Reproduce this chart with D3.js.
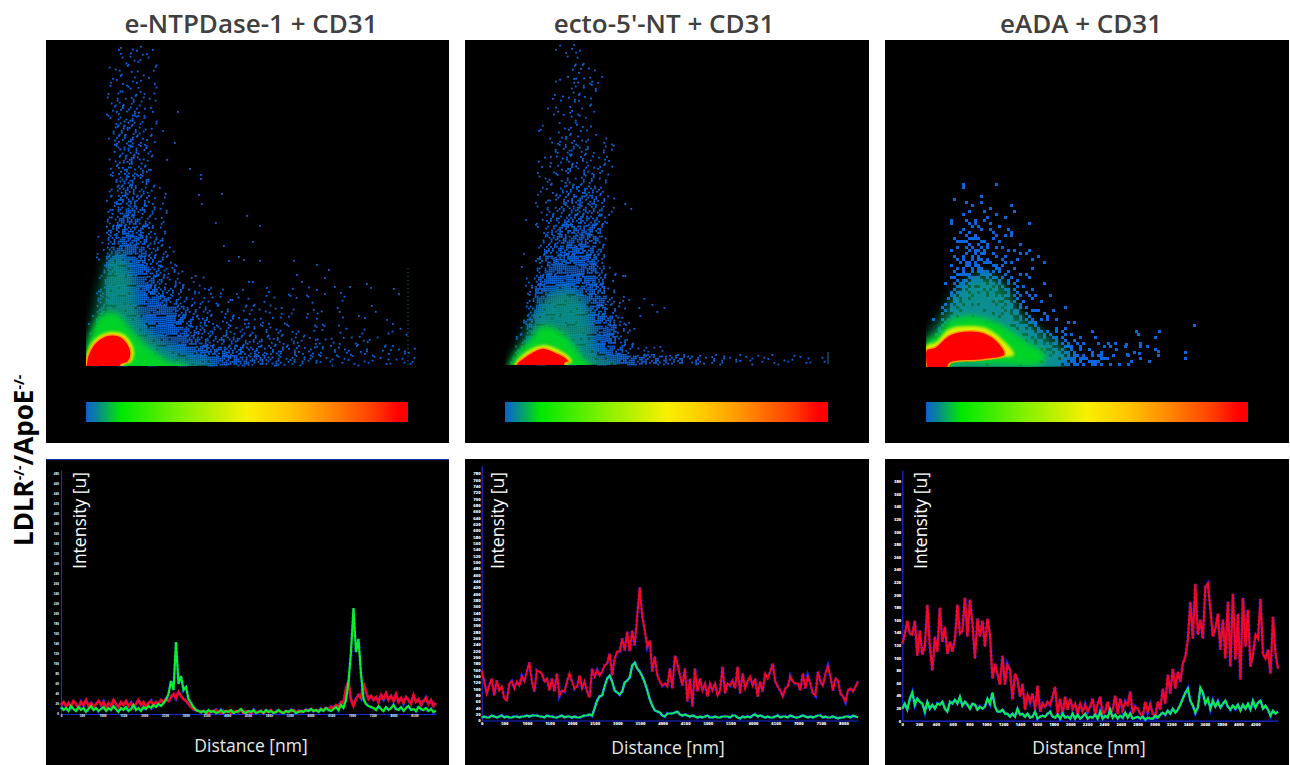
<!DOCTYPE html>
<html>
  <head>
    <title>Colocalisation panels</title>
    <script src="https://cdnjs.cloudflare.com/ajax/libs/d3/7.8.5/d3.min.js" charset="utf-8"></script>
    <style>
      html, body { margin: 0; padding: 0; background: #fff; }
      svg { display: block; }
    </style>
  </head>
  <body>
    <div id="main"></div>
  <script>
    // panel titles
    var titles = ["e-NTPDase-1 + CD31", "ecto-5'-NT + CD31", "eADA + CD31"];
    var titleX = [251, 664, 1081];

    // colour bar stops, 0 - 1
    var barStops = [0, 0.03, 0.11, 0.3, 0.5, 0.62, 0.75, 0.9, 0.97, 1];
    var barColors = ["#0b5fd0", "#0a80a0", "#00e800", "#80f000", "#f8f000", "#ffc800", "#ff8a00", "#ff3800", "#ff0000", "#ff0000"];

    // density of the scatter, one digit per cell (0 empty - 9 solid), top row first
    var density1 = [
      "00021210", "00012110", "00111110", "00122110", "00122210", "00233210", "00234210", "00244310",
      "00244310", "00245320", "00145320", "00145310", "00245420", "00255420", "00256421", "00266431",
      "00367532", "00477532", "00577642", "01688743", "016897432", "028998542", "0289996531", "039999753221",
      "049999864321210100101010", "059999985422212111101010010", "06999999964322212111101101001", "1799999997543232221110110101001",
      "18999999986543333222211101010011", "299999999976555443333222111211", "399999999998776655443333222221221", "499999999999988766544332222121212"
    ];
    var density2 = [
      "000001210", "000000110", "0000001210", "0000012221", "000000222", "000011221", "000011211", "00000121",
      "00010122100", "00001232111", "00001343221", "00011233221", "00011243331", "00012233320", "00012345530", "00012456641",
      "00013456541", "00014566651", "00025677750", "00025777740", "00036788740", "00047889850", "00058998851", "00279998961",
      "00389998872", "004899998831", "005999998731", "01699999987300", "0189999998831", "0399999999841", "0599999999863221", "18999999999987665544332222212111"
    ];
    var density3 = [
      "000101", "00011", "00121101", "00133211", "002433211", "00355322", "0035643221", "0046654321",
      "0057765320", "01688754310", "02789875321", "038999864321", "1599999764321", "279999998654311",
      "4999999998765332110101", "9999999999987663321101"
    ];

    // single stray points [channel 1, channel 2]
    var stray1 = [[91,254],[76,235],[88,223],[80,206],[103,197],[114,191],[114,187],[135,172],[112,171],[115,162],[160,150],[173,140],[129,143],[166,124],[137,120],[152,109],[207,105],[230,101],[242,96],[142,105],[173,105],[157,106],[210,91],[238,88],[215,84],[162,84],[166,84],[280,82],[307,77],[284,78],[312,72],[263,79],[248,79],[254,73],[230,76],[238,72]];
    var stray2 = [[20,145],[33,234],[18,111],[16,98],[119,161],[125,156],[117,89],[119,89],[138,66],[146,60],[158,57],[151,53],[133,57],[134,49],[123,65],[117,64],[128,36],[123,42]];
    var stray3 = [[209,36],[211,33],[232,36],[228,30],[267,42],[213,24],[213,21],[220,21],[231,16],[212,14],[200,13],[199,23],[181,24],[188,24]];

    // density contours [channel 1, channel 2], from the left end of the base to the right end
    var teal1 = [[0,0],[2,25],[8,50],[15,80],[22,105],[32,112],[42,100],[48,78],[52,55],[60,38],[80,20],[105,8],[125,2]];
    var green1 = [[0,0],[0,15],[6,35],[15,50],[30,52],[42,40],[55,25],[70,12],[85,3],[100,0]];
    var yellow1 = [[0,0],[1,12],[9,26],[23,33],[39,30],[48,14],[45,3],[37,0]];
    var red1 = [[0,0],[2,10],[10,23],[23,30],[37,27],[45,13],[42,3],[35,0]];
    var teal2 = [[5,0],[15,20],[27,45],[45,70],[60,75],[75,68],[85,45],[88,20],[95,6],[110,2]];
    var green2 = [[5,0],[12,12],[25,25],[38,38],[55,33],[68,20],[78,6],[85,0]];
    var yellow2 = [[10,0],[16,8],[26,15],[38,19],[52,15],[63,8],[67,2],[62,0]];
    var red2 = [[12,1],[18,6],[27,12],[38,16],[50,12],[60,7],[64,2],[60,1]];
    var teal3 = [[0,0],[0,28],[15,48],[27,70],[40,85],[62,92],[82,78],[95,52],[125,28],[145,10],[135,0]];
    var green3 = [[0,0],[0,25],[12,32],[22,45],[45,50],[70,44],[100,25],[120,10],[115,2],[23,0]];
    var yellow3 = [[0,0],[0,20],[10,24],[23,37],[40,40],[60,38],[78,25],[88,11],[60,9],[23,3]];
    var red3 = [[0,0],[0,16],[9,19],[23,31],[39,35],[59,33],[74,22],[79,11],[56,6],[23,2]];

    // line profiles, intensity along the distance
    var redLine1 = [9,12,8,11,7,13,10,6,12,9,14,8,11,7,10,13,9,12,6,11,8,14,10,7,12,9,13,8,11,6,10,14,9,12,7,11,13,8,12,10,14,
      12,15,13,17,20,16,22,18,15,13,10,7,5,4,3,
      2,3,2,1,3,2,4,2,1,3,2,3,1,2,3,2,4,1,3,2,1,3,2,2,3,1,3,2,4,1,2,3,2,1,3,2,3,4,2,3,2,3,4,3,5,3,4,3,5,4,6,5,7,6,9,7,12,11,
      26,32,14,8,15,19,16,31,22,15,18,
      14,17,12,19,15,21,14,18,13,20,12,16,11,17,14,10,19,12,15,9,13,16,10,14,8,11];
    var greenLine1 = [7,4,6,3,8,5,3,7,4,6,2,5,8,4,6,3,5,7,3,6,4,8,5,2,6,4,7,3,5,9,4,6,3,7,5,8,6,9,7,10,8,
      11,14,20,33,24,72,30,38,24,27,15,11,7,4,3,
      2,3,1,4,2,3,1,2,4,1,3,2,4,1,2,3,5,2,1,3,2,4,1,2,3,1,4,2,3,1,2,4,2,1,3,2,4,3,1,2,3,2,4,3,5,3,4,2,5,3,6,4,3,5,7,4,9,6,
      14,32,62,106,62,75,40,15,10,8,7,
      6,4,8,5,3,7,4,6,9,5,4,7,3,6,8,4,5,3,7,5,4,6,3,5,2,3];
    var redLine2 = [50,39,27,35,42,25,40,30,34,22,20,37,39,32,39,35,44,39,49,58,39,29,50,49,47,39,42,30,42,29,47,25,30,29,39,47,39,32,34,45,32,39,29,23,52,44,50,45,49,55,57,67,45,62,69,69,82,70,89,69,90,75,105,133,104,90,74,80,49,64,45,39,35,37,34,
      52,32,65,57,45,35,52,19,42,14,52,29,42,30,37,24,37,30,37,25,30,54,27,37,35,40,32,54,27,47,32,39,44,35,42,24,39,29,47,42,49,57,39,34,30,24,32,34,44,39,37,37,30,47,32,44,37,27,25,49,39,35,47,54,44,30,42,40,27,24,19,30,32,29,34,39];
    var greenLine2 = [3,4,3,3,5,4,3,4,5,3,4,3,3,4,4,3,4,4,5,4,5,5,5,4,4,3,5,4,4,3,3,4,5,3,4,4,3,4,3,3,4,5,5,6,5,
      12,20,24,25,34,42,45,39,30,28,26,29,38,40,43,55,58,52,49,44,38,30,21,15,10,9,8,5,4,7,7,7,8,9,6,5,
      6,5,4,5,4,3,4,3,4,5,3,3,4,3,3,4,4,4,3,5,5,3,2,4,3,4,3,5,6,4,5,4,3,4,3,3,4,5,3,4,4,3,5,4,3,3,4,5,4,3,4,3,4,5,5,3,4,3,3,4,3,2,3,3,4,4,3,5,4,3];
    var redLine3 = [77,87,100,87,86,100,65,90,66,74,116,74,50,84,69,113,79,94,67,79,69,81,116,87,90,123,84,121,97,62,102,84,100,74,102,86,42,57,47,36,65,36,56,51,21,47,41,24,37,11,26,19,27,11,35,9,17,14,19,16,24,34,7,22,6,24,11,22,12,17,7,17,9,16,9,
      14,22,6,17,24,7,9,19,7,11,25,7,22,11,19,16,29,7,14,12,7,4,19,9,16,7,4,19,11,32,17,46,27,52,32,49,39,57,64,81,119,82,137,86,101,82,134,137,111,84,92,107,71,101,62,119,54,127,61,107,41,123,74,111,54,66,86,82,122,67,62,71,47,104,67,52];
    var greenLine3 = [12,17,11,22,28,16,22,19,17,9,19,12,16,12,17,16,19,12,9,19,17,21,17,24,15,19,16,12,17,16,11,14,12,14,22,17,28,14,9,9,11,7,7,4,7,4,12,6,7,4,7,3,4,9,2,4,5,4,7,9,4,3,6,2,7,3,4,2,7,2,6,2,4,7,2,
      4,3,6,2,9,2,5,3,11,3,6,2,5,3,8,3,7,2,3,4,2,4,1,3,2,2,5,3,6,8,6,10,7,12,8,11,16,22,28,32,20,15,8,13,33,28,17,22,12,20,14,19,13,17,20,14,11,15,12,16,10,16,12,17,11,20,13,18,20,12,15,11,5,10,7,9];

    // axis tick labels
    var yLabels1 = d3.range(0, 500, 20);
    var xLabels1 = d3.range(0, 9000, 500);
    var yLabels2 = d3.range(0, 800, 20);
    var xLabels2 = d3.range(0, 8500, 500);
    var yLabels3 = d3.range(0, 400, 20);
    var xLabels3 = d3.range(0, 4400, 200);

    var svgWidth = 1290;
    var svgHeight = 765;

    var svg = d3.select("#main")
      .append("svg")
      .attr("width", svgWidth)
      .attr("height", svgHeight)
      .style("font-family", "'Open Sans', sans-serif");

    var defs = svg.append("defs");
    var grad = defs.append("linearGradient").attr("id", "bar");
    barStops.forEach(function(s, i) {
      grad.append("stop").attr("offset", s).attr("stop-color", barColors[i]);
    });
    [0.7, 1.5, 3, 6].forEach(function(b) {
      defs.append("filter").attr("id", "blur" + String(b).replace(".", "_"))
        .attr("x", "-30%").attr("y", "-30%").attr("width", "160%").attr("height", "160%")
        .append("feGaussianBlur").attr("stdDeviation", b);
    });

    // share of a cell that is filled for each density digit
    var fillShare = [0, 0.06, 0.12, 0.18, 0.26, 0.36, 0.48, 0.62, 0.78, 0.95];
    // order in which the places of a cell get filled
    var order25 = [12,3,21,8,17,0,24,6,14,19,2,10,23,5,16,9,1,20,13,4,18,7,22,11,15];
    var order16 = [5,10,0,15,3,12,6,9,1,14,7,8,2,13,4,11];

    var scatterPanels = [
      { left: 46, right: 449, x0: 86, x1: 408, base: 365, density: density1, stray: stray1, cell: 10, dot: 2, dotSize: 1.8, shift: 0.8,
        teal: teal1, green: green1, yellow: yellow1, red: red1, edge: [0, 100] },
      { left: 465, right: 869, x0: 505, x1: 828, base: 364, density: density2, stray: stray2, cell: 10, dot: 2, dotSize: 1.8, shift: 0.8,
        teal: teal2, green: green2, yellow: yellow2, red: red2, edge: [0, 12] },
      { left: 885, right: 1289, x0: 926, x1: 1248, base: 366, density: density3, stray: stray3, cell: 12, dot: 3, dotSize: 3, shift: 0,
        teal: teal3, green: green3, yellow: yellow3, red: red3, edge: null }
    ];

    scatterPanels.forEach(function(p, k) {
      var x = d3.scaleLinear().domain([0, 322]).range([p.x0, p.x1]);
      var y = d3.scaleLinear().domain([0, 322]).range([p.base, p.base - 322]);
      var g = svg.append("g");

      g.append("rect").attr("x", p.left).attr("y", 40)
        .attr("width", p.right - p.left).attr("height", 403).attr("fill", "#000");

      svg.append("text").attr("x", titleX[k]).attr("y", 33)
        .attr("text-anchor", "middle").attr("font-size", 26).attr("font-weight", 600)
        .attr("fill", "#404040").text(titles[k]);

      // stipple for the density cells
      var sub = p.cell / p.dot;
      var n = sub * sub;
      var order = n === 25 ? order25 : order16;
      var top = p.density.length * p.cell;
      var dots = [];
      p.density.forEach(function(row, r) {
        row.split("").forEach(function(ch, c) {
          var d = +ch;
          if (d === 0) return;
          var count = Math.max(1, Math.round(fillShare[d] * n));
          var start = (c * 7 + r * 13) % n;
          var sa = ((c * 3 + r * 5) % 3) * p.shift;
          var sb = ((c * 5 + r * 2) % 3) * p.shift;
          for (var i = 0; i < count; i++) {
            var pos = order[(start + i) % n];
            dots.push({
              a: c * p.cell + (pos % sub) * p.dot + sa,
              b: top - r * p.cell - Math.floor(pos / sub) * p.dot - sb
            });
          }
        });
      });
      g.append("g").selectAll("rect").data(dots).enter().append("rect")
        .attr("x", function(d) { return x(d.a); })
        .attr("y", function(d) { return y(d.b); })
        .attr("width", p.dotSize).attr("height", p.dotSize)
        .attr("fill", "#0a66e0");

      g.append("g").selectAll("rect").data(p.stray).enter().append("rect")
        .attr("x", function(d) { return x(d[0]); })
        .attr("y", function(d) { return y(d[1]); })
        .attr("width", p.dotSize).attr("height", p.dotSize)
        .attr("fill", "#0a66e0");

      // contours, clipped at the axes
      var clipId = "core" + k;
      defs.append("clipPath").attr("id", clipId).append("rect")
        .attr("x", p.x0).attr("y", 40).attr("width", p.x1 - p.x0).attr("height", p.base - 40 + 1);
      var area = d3.line()
        .x(function(d) { return x(d[0]); })
        .y(function(d) { return y(d[1]); })
        .curve(d3.curveCatmullRomClosed.alpha(0.5));
      var core = g.append("g").attr("clip-path", "url(#" + clipId + ")");
      var layers = [
        [p.teal, "#0aa070", "blur6", 0.7, null],
        [p.green, "#06d820", "blur3", 0.95, null],
        [p.yellow, "#d8f000", "blur1_5", 1, null],
        [p.red, "#ff0000", "blur0_7", 1, "#ffa000"]
      ];
      layers.forEach(function(l) {
        var pts = l[0].concat([[l[0][l[0].length - 1][0], -12], [l[0][0][0], -12]]);
        core.append("path").attr("d", area(pts)).attr("fill", l[1])
          .attr("opacity", l[3])
          .attr("stroke", l[4]).attr("stroke-width", l[4] ? 1.6 : null)
          .attr("filter", "url(#" + l[2] + ")");
      });

      if (p.edge) {
        g.append("line").attr("x1", x(322)).attr("x2", x(322))
          .attr("y1", y(p.edge[0])).attr("y2", y(p.edge[1]))
          .attr("stroke", "#0a7a90").attr("stroke-width", 1)
          .attr("stroke-dasharray", k === 0 ? "1 3" : null);
      }

      g.append("rect").attr("x", x(0)).attr("y", 402)
        .attr("width", x(322) - x(0)).attr("height", 20).attr("fill", "url(#bar)");
    });

    var linePanels = [
      { left: 46, right: 449, x0: 61, x1: 436, base: 714, top: 470, yMax: 488, red: redLine1, green: greenLine1,
        yLabels: yLabels1, xLabels: xLabels1, xMax: 9020, labelX: 86, distX: 251, distY: 752, cyan: false, redWidth: 2.6, greenWidth: 2.2 },
      { left: 465, right: 869, x0: 481.7, x1: 858, base: 720.5, top: 466, yMax: 804, red: redLine2, green: greenLine2,
        yLabels: yLabels2, xLabels: xLabels2, xMax: 8320, labelX: 504, distX: 668, distY: 754, cyan: true, redWidth: 2, greenWidth: 1 },
      { left: 885, right: 1289, x0: 902.3, x1: 1278, base: 720.7, top: 470, yMax: 398, red: redLine3, green: greenLine3,
        yLabels: yLabels3, xLabels: xLabels3, xMax: 4470, labelX: 927, distX: 1089, distY: 754, cyan: true, redWidth: 2.2, greenWidth: 1.2 }
    ];

    linePanels.forEach(function(p, k) {
      var g = svg.append("g");
      g.append("rect").attr("x", p.left).attr("y", 459)
        .attr("width", p.right - p.left).attr("height", 306).attr("fill", "#000");
      if (k === 0) {
        g.append("line").attr("x1", p.left).attr("x2", p.right).attr("y1", 459.5).attr("y2", 459.5)
          .attr("stroke", "#1830c0").attr("stroke-width", 1);
      }

      var x = d3.scaleLinear().domain([0, p.red.length - 1]).range([p.x0, p.x1]);
      var xDist = d3.scaleLinear().domain([0, p.xMax]).range([p.x0, p.x1]);
      var y = d3.scaleLinear().domain([0, p.yMax]).range([p.base, p.top]);
      // profile values were read as height above the axis
      var h = d3.scaleLinear().domain([0, p.base - p.top]).range([p.base, p.top]);

      var path = d3.line()
        .x(function(d, i) { return x(i); })
        .y(function(d) { return h(d); });

      var yAxis = d3.axisLeft(y).tickValues(p.yLabels).tickFormat(d3.format("d")).tickSize(0).tickPadding(k === 0 ? 2 : 1);
      var xAxis = d3.axisBottom(xDist).tickValues(p.xLabels).tickFormat(d3.format("d")).tickSize(0).tickPadding(k === 0 ? 1 : 2);
      var ax = g.append("g").attr("transform", "translate(" + p.x0 + ",0)").call(yAxis);
      var bx = g.append("g").attr("transform", "translate(0," + p.base + ")").call(xAxis);
      [ax, bx].forEach(function(a) {
        a.attr("font-family", "'Open Sans', sans-serif");
        a.select(".domain").attr("stroke", "#1a2ae0").attr("stroke-width", 1.2);
        a.selectAll("text").attr("fill", k === 0 ? "#cfe0ff" : "#fff")
          .attr("font-size", k === 0 ? 3 : 4.2).attr("font-weight", 800);
      });

      // raw points scattered round the curves
      [p.red, p.green].forEach(function(s) {
        g.append("path").attr("d", path(s)).attr("fill", "none")
          .attr("stroke", "#1020e8").attr("stroke-width", 3.8).attr("stroke-dasharray", "1.2 3");
      });
      g.append("path").attr("d", path(p.red)).attr("fill", "none")
        .attr("stroke", "#f0082c").attr("stroke-width", p.redWidth);
      if (p.cyan) {
        g.append("path").attr("d", path(p.green)).attr("fill", "none")
          .attr("stroke", "#18d8c8").attr("stroke-width", 2.2);
      }
      g.append("path").attr("d", path(p.green)).attr("fill", "none")
        .attr("stroke", "#0cf02c").attr("stroke-width", p.greenWidth);

      g.append("text")
        .attr("transform", "translate(" + p.labelX + ",569) rotate(-90)")
        .attr("font-size", 17.5).attr("fill", "#fff").text("Intensity [u]");
      g.append("text").attr("x", p.distX).attr("y", p.distY)
        .attr("text-anchor", "middle").attr("font-size", 17.5).attr("fill", "#e8e8e8").text("Distance [nm]");
    });

    // row label with superscripts
    var rowLabel = svg.append("text")
      .attr("transform", "translate(33,546) rotate(-90)")
      .attr("font-size", 26).attr("font-weight", 700).attr("fill", "#000");
    rowLabel.append("tspan").text("LDLR");
    rowLabel.append("tspan").attr("font-size", 14).attr("dy", -9).text("-/-");
    rowLabel.append("tspan").attr("dy", 9).text("/ApoE");
    rowLabel.append("tspan").attr("font-size", 14).attr("dy", -9).text("-/-");
  </script>
  </body>
</html>
